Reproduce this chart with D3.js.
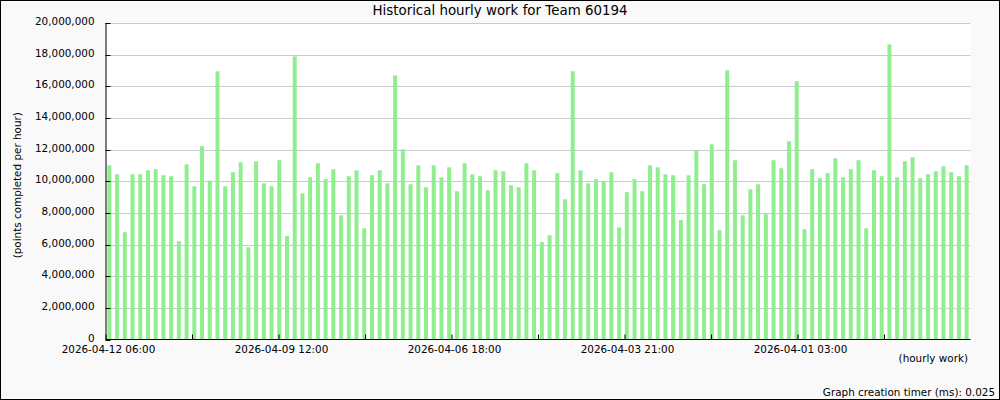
<!DOCTYPE html>
<html>
<head>
<meta charset="utf-8">
<script src="https://cdn.jsdelivr.net/npm/d3@7"></script>
<style>
  html, body { margin: 0; padding: 0; background: #f9f9f9; }
  svg { display: block; font-family: "DejaVu Sans", sans-serif; }
</style>
</head>
<body>
<svg id="chart" width="1000" height="400"></svg>
<script>
const title = "Historical hourly work for Team 60194";
const yAxisTitle = "(points completed per hour)";
const xAxisTitle = "(hourly work)";
const footer = "Graph creation timer (ms): 0.025";

// points completed per bar, left to right (millions)
const values = [
  11.01, 10.44, 6.78, 10.44, 10.44, 10.69, 10.76, 10.38, 10.32, 6.21,
  11.07, 9.68, 12.21, 10.04, 16.95, 9.68, 10.57, 11.20, 5.83, 11.26,
  9.87, 9.68, 11.33, 6.53, 17.89, 9.24, 10.25, 11.14, 10.13, 10.76,
  7.85, 10.32, 10.69, 7.03, 10.38, 10.69, 9.87, 16.69, 12.02, 9.81,
  11.01, 9.62, 11.01, 10.25, 10.88, 9.37, 11.14, 10.44, 10.32, 9.43,
  10.69, 10.63, 9.75, 9.62, 11.14, 10.69, 6.15, 6.59, 10.51, 8.86,
  16.95, 10.69, 9.87, 10.13, 10.00, 10.57, 7.09, 9.31, 10.13, 9.37,
  11.01, 10.88, 10.44, 10.38, 7.54, 10.38, 11.96, 9.81, 12.34, 6.91,
  17.01, 11.33, 7.85, 9.49, 9.81, 7.92, 11.33, 10.82, 12.53, 16.32,
  6.97, 10.76, 10.19, 10.51, 11.45, 10.25, 10.76, 11.33, 7.03, 10.69,
  10.32, 18.65, 10.25, 11.26, 11.52, 10.19, 10.44, 10.63, 10.95, 10.57,
  10.32, 11.01
].map(v => v * 1e6);

const tickLabels = ["2026-04-12 06:00", "2026-04-09 12:00", "2026-04-06 18:00", "2026-04-03 21:00", "2026-04-01 03:00"];
const yTicks = [0, 2e6, 4e6, 6e6, 8e6, 10e6, 12e6, 14e6, 16e6, 18e6, 20e6];

const W = 1000, H = 400;
const plot = { left: 105.5, right: 970.5, top: 23, bottom: 339.5 };
const smallFont = 10.4, titleFont = 13.4;

const svg = d3.select("#chart");

// frame
svg.append("rect").attr("x", 0.5).attr("y", 0.5).attr("width", W - 1).attr("height", H - 1)
  .attr("fill", "#f9f9f9").attr("stroke", "#000").attr("stroke-width", 1);

// plot background
svg.append("rect").attr("x", plot.left).attr("y", plot.top)
  .attr("width", plot.right - plot.left).attr("height", plot.bottom - plot.top)
  .attr("fill", "#fff");

const x = d3.scaleBand().domain(d3.range(values.length))
  .range([plot.left, plot.right]).paddingInner(0.482).paddingOuter(0.241);
const xLin = d3.scaleLinear().domain([0, values.length]).range([plot.left, plot.right]);
const y = d3.scaleLinear().domain([0, 20e6]).range([plot.bottom, plot.top]);

// grid
svg.append("g").selectAll("line").data(yTicks.filter(d => d > 0)).join("line")
  .attr("x1", plot.left).attr("x2", plot.right)
  .attr("y1", d => Math.round(y(d)) + 0.5).attr("y2", d => Math.round(y(d)) + 0.5)
  .attr("stroke", "#cccccc").attr("stroke-width", 1);

// bars
svg.append("g").selectAll("rect").data(values).join("rect")
  .attr("x", (d, i) => x(i))
  .attr("width", x.bandwidth())
  .attr("y", d => y(d))
  .attr("height", d => y(0) - y(d))
  .attr("fill", "#90ee90");

// y axis
const yAxis = d3.axisRight(y).tickValues(yTicks).tickSize(5).tickFormat("");
const gy = svg.append("g").attr("transform", `translate(${plot.left},0)`).call(yAxis);
gy.select(".domain").attr("d", `M0.5,${plot.bottom}V${plot.top}`).attr("stroke", "#000");
gy.selectAll(".tick line").attr("stroke", "#000");
gy.selectAll(".tick").attr("transform", d => `translate(0,${Math.round(y(d)) + 0.5})`);

svg.append("g").selectAll("text").data(yTicks).join("text")
  .attr("x", plot.left - 11).attr("y", d => y(d) - 1.5)
  .attr("dy", "0.35em")
  .attr("text-anchor", "end")
  .attr("font-size", smallFont).attr("fill", "#000")
  .text(d => d3.format(",")(d));

// x axis
const nTicks = 10;
const xTickVals = d3.range(nTicks).map(i => i * values.length / nTicks);
const xAxis = d3.axisTop(xLin).tickValues(xTickVals).tickSize(5).tickFormat("");
const gx = svg.append("g").attr("transform", `translate(0,${plot.bottom})`).call(xAxis);
gx.select(".domain").attr("d", `M${plot.left},0V0H${plot.right}`).attr("stroke", "#000");
gx.selectAll(".tick line").attr("stroke", "#000");

svg.append("g").selectAll("text").data(tickLabels).join("text")
  .attr("x", (d, i) => xLin(xTickVals[i * 2]) + 3)
  .attr("y", 352.5)
  .attr("text-anchor", "middle")
  .attr("font-size", smallFont).attr("fill", "#000")
  .text(d => d);

// titles
svg.append("text").attr("x", 500).attr("y", 15).attr("text-anchor", "middle")
  .attr("font-size", titleFont).attr("fill", "#000").text(title);

svg.append("text").attr("transform", `translate(21,${(plot.top + plot.bottom) / 2 + 4}) rotate(-90)`)
  .attr("text-anchor", "middle").attr("font-size", smallFont).attr("fill", "#000").text(yAxisTitle);

svg.append("text").attr("x", 968).attr("y", 362).attr("text-anchor", "end")
  .attr("font-size", smallFont).attr("fill", "#000").text(xAxisTitle);

svg.append("text").attr("x", 995).attr("y", 396).attr("text-anchor", "end")
  .attr("font-size", smallFont).attr("fill", "#000").text(footer);
</script>
</body>
</html>
